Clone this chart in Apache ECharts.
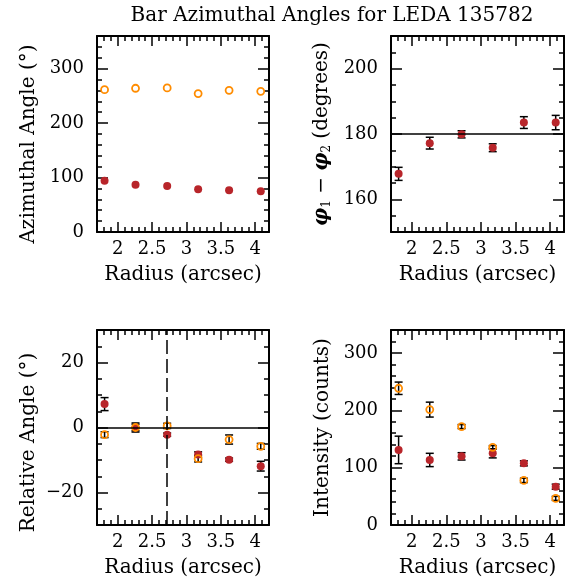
<!DOCTYPE html>
<html>
<head>
<meta charset="utf-8">
<script src="https://cdn.jsdelivr.net/npm/echarts@6/dist/echarts.min.js"></script>
<style>
html, body { margin: 0; padding: 0; background: #fff; }
#main { width: 573px; height: 585px; }
</style>
</head>
<body>
<div id="main"></div>
<script>
// radius of each annulus (arcsec)
var radius = [1.81, 2.26, 2.72, 3.17, 3.62, 4.08];
// top left: azimuthal angle of the two components
var phi1 = [261.5, 264.0, 264.6, 254.2, 260.3, 258.4];
var phi2 = [94.0, 86.8, 84.7, 78.4, 76.8, 74.9];
// top right: phi1 - phi2
var phiDiff = [167.8, 177.2, 179.9, 175.8, 183.5, 183.5];
var phiDiffErr = [2.0, 1.8, 1.1, 1.2, 1.8, 2.2];
// bottom left: relative angle
var relRed = [7.2, 0.0, -2.2, -8.3, -9.9, -11.9];
var relRedErr = [2.0, 1.4, 0.5, 0.8, 0.5, 1.5];
var relOrange = [-2.2, 0.0, 0.5, -9.6, -3.7, -5.8];
var relOrangeErr = [0.9, 1.0, 0.8, 1.0, 1.4, 0.9];
// bottom right: intensity
var intOrange = [238.4, 201.2, 171.6, 135.4, 77.8, 46.4];
var intOrangeErr = [10.8, 13.0, 3.5, 3.0, 3.8, 3.5];
var intRed = [130.9, 113.4, 119.7, 125.0, 107.5, 66.8];
var intRedErr = [24.0, 11.6, 6.4, 8.0, 4.4, 4.4];
// tick labels
var xTicks = [2, 2.5, 3, 3.5, 4];
var yTicksAz = [0, 100, 200, 300];
var yTicksDiff = [160, 180, 200];
var yTicksRel = [-20, 0, 20];
var yTicksInt = [0, 100, 200, 300];

var FONT = 'DejaVu Serif';
var RED = '#b8252a';
var ORANGE = '#ff8c00';

// 用真正的减号
function fmt(v) {
    return String(v).replace('-', '\u2212');
}

// 4 x axes per grid: bottom major, bottom minor, top major, top minor
function makeXAxes(g, name) {
    var base = { type: 'value', gridIndex: g, min: 1.7, max: 4.2, splitLine: { show: false } };
    var line = { onZero: false, lineStyle: { color: '#000', width: 2 } };
    var major = { inside: true, length: 10, customValues: xTicks, lineStyle: { color: '#000', width: 1.5 } };
    var minor = { inside: true, length: 5, lineStyle: { color: '#000', width: 1.5 } };
    return [
        Object.assign({}, base, {
            position: 'bottom', axisLine: line, axisTick: major,
            axisLabel: { customValues: xTicks, formatter: fmt, color: '#000', fontFamily: FONT, fontSize: 18, margin: 8 },
            name: name, nameLocation: 'middle', nameGap: 33,
            nameTextStyle: { color: '#000', fontFamily: FONT, fontSize: 20 }
        }),
        Object.assign({}, base, {
            position: 'bottom', interval: 0.1, axisLine: { show: false, onZero: false },
            axisTick: minor, axisLabel: { show: false }
        }),
        Object.assign({}, base, {
            position: 'top', axisLine: line, axisTick: major, axisLabel: { show: false }
        }),
        Object.assign({}, base, {
            position: 'top', interval: 0.1, axisLine: { show: false, onZero: false },
            axisTick: minor, axisLabel: { show: false }
        })
    ];
}

function makeYAxes(g, min, max, step, ticks, name, shift) {
    var base = { type: 'value', gridIndex: g, min: min, max: max, splitLine: { show: false } };
    var line = { onZero: false, lineStyle: { color: '#000', width: 2 } };
    var major = { inside: true, length: 11, customValues: ticks, lineStyle: { color: '#000', width: 1.5 } };
    var minor = { inside: true, length: 5, lineStyle: { color: '#000', width: 1.5 } };
    return [
        Object.assign({}, base, {
            position: 'left', axisLine: line, axisTick: major,
            axisLabel: { customValues: ticks, formatter: fmt, color: '#000', fontFamily: FONT, fontSize: 18, margin: 13 },
            name: name, nameLocation: 'middle', nameGap: 58,
            nameTextStyle: {
                color: '#000', fontFamily: FONT, fontSize: 20,
                padding: [0, shift, 0, 0],
                rich: {
                    p: { fontFamily: FONT, fontSize: 20, fontStyle: 'italic', fontWeight: 'bold', color: '#000' },
                    s: { fontFamily: FONT, fontSize: 12, color: '#000', padding: [10, 0, 0, 0] }
                }
            }
        }),
        Object.assign({}, base, {
            position: 'left', interval: step, axisLine: { show: false, onZero: false },
            axisTick: minor, axisLabel: { show: false }
        }),
        Object.assign({}, base, {
            position: 'right', axisLine: line, axisTick: major, axisLabel: { show: false }
        }),
        Object.assign({}, base, {
            position: 'right', interval: step, axisLine: { show: false, onZero: false },
            axisTick: minor, axisLabel: { show: false }
        })
    ];
}

function pairs(vals) {
    return radius.map(function (r, i) { return [r, vals[i]]; });
}

function dots(g, vals, open) {
    return {
        type: 'scatter', xAxisIndex: 4 * g, yAxisIndex: 4 * g, z: open ? 4 : 3,
        symbol: 'circle', symbolSize: open ? 7 : 8,
        itemStyle: open
            ? { color: 'rgba(255,255,255,0)', borderColor: ORANGE, borderWidth: 1.8, opacity: 1 }
            : { color: RED, opacity: 1 },
        data: pairs(vals)
    };
}

function errBars(g, vals, errs) {
    return {
        type: 'custom', xAxisIndex: 4 * g, yAxisIndex: 4 * g, z: 2,
        data: radius.map(function (r, i) { return [r, vals[i] - errs[i], vals[i] + errs[i]]; }),
        renderItem: function (params, api) {
            var lo = api.coord([api.value(0), api.value(1)]);
            var hi = api.coord([api.value(0), api.value(2)]);
            var w = 4;
            var st = { stroke: '#000', lineWidth: 1.5 };
            return {
                type: 'group', children: [
                    { type: 'line', shape: { x1: lo[0], y1: lo[1], x2: hi[0], y2: hi[1] }, style: st },
                    { type: 'line', shape: { x1: lo[0] - w, y1: lo[1], x2: lo[0] + w, y2: lo[1] }, style: st },
                    { type: 'line', shape: { x1: hi[0] - w, y1: hi[1], x2: hi[0] + w, y2: hi[1] }, style: st }
                ]
            };
        }
    };
}

var refLine = { silent: true, symbol: ['none', 'none'], label: { show: false }, animation: false,
    lineStyle: { color: '#000', width: 1.5, type: 'solid' } };

var myChart = echarts.init(document.getElementById('main'));

var xAxes = [].concat(
    makeXAxes(0, 'Radius (arcsec)'), makeXAxes(1, 'Radius (arcsec)'),
    makeXAxes(2, 'Radius (arcsec)'), makeXAxes(3, 'Radius (arcsec)')
);
var yAxes = [].concat(
    makeYAxes(0, 0, 360, 20, yTicksAz, 'Azimuthal Angle (°)', 20),
    makeYAxes(1, 150, 210, 5, yTicksDiff, '{p|φ}{s|1} − {p|φ}{s|2} (degrees)', 0),
    makeYAxes(2, -30, 30, 5, yTicksRel, 'Relative Angle (°)', 30),
    makeYAxes(3, 0, 340, 20, yTicksInt, 'Intensity (counts)', 0)
);

var diffSeries = dots(1, phiDiff, false);
diffSeries.markLine = Object.assign({}, refLine, { data: [{ yAxis: 180 }] });

var relSeries = dots(2, relRed, false);
relSeries.markLine = Object.assign({}, refLine, {
    data: [
        { yAxis: 0 },
        { xAxis: radius[2], lineStyle: { color: '#000', width: 1.5, type: [14, 5] } }
    ]
});

var option = {
    animation: false,
    backgroundColor: '#fff',
    title: {
        text: 'Bar Azimuthal Angles for LEDA 135782',
        left: 327, top: 1, textAlign: 'center',
        textStyle: { color: '#000', fontFamily: FONT, fontSize: 20, fontWeight: 'normal' }
    },
    grid: [
        { left: 97, top: 36, width: 172, height: 196 },
        { left: 391, top: 36, width: 173, height: 196 },
        { left: 97, top: 330, width: 172, height: 195 },
        { left: 391, top: 330, width: 173, height: 195 }
    ],
    xAxis: xAxes,
    yAxis: yAxes,
    series: [
        dots(0, phi2, false),
        dots(0, phi1, true),
        errBars(1, phiDiff, phiDiffErr),
        diffSeries,
        errBars(2, relRed, relRedErr),
        errBars(2, relOrange, relOrangeErr),
        relSeries,
        dots(2, relOrange, true),
        errBars(3, intRed, intRedErr),
        errBars(3, intOrange, intOrangeErr),
        dots(3, intRed, false),
        dots(3, intOrange, true)
    ]
};

myChart.setOption(option);

window.addEventListener('resize', function () {
    myChart.resize();
});
</script>
</body>
</html>
